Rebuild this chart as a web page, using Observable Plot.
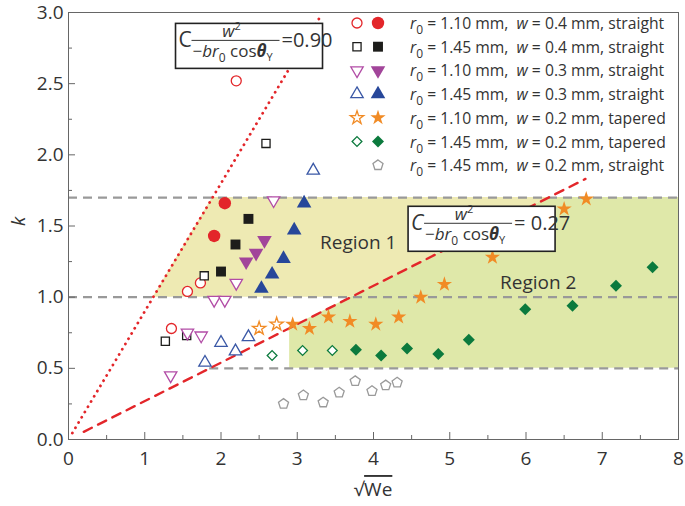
<!DOCTYPE html>
<html><head><meta charset="utf-8">
<script src="https://cdn.jsdelivr.net/npm/d3@7"></script>
<script src="https://cdn.jsdelivr.net/npm/@observablehq/plot@0.6"></script>
<style>body{margin:0;background:#fff;} #chart{width:685px;height:506px;}</style>
</head><body><div id="chart"></div>
<script>
// ---- data (sqrt(We), k) ----
const red110w04Open   = [[2.20,2.52],[1.56,1.04],[1.73,1.10],[1.35,0.78]];
const red110w04Filled = [[2.05,1.66],[1.91,1.43]];
const blk145w04Open   = [[2.59,2.08],[1.78,1.15],[1.55,0.73],[1.27,0.69]];
const blk145w04Filled = [[2.36,1.55],[2.19,1.37],[2.00,1.18]];
const mag110w03Open   = [[2.69,1.68],[2.20,1.10],[1.91,0.98],[2.05,0.98],[1.56,0.75],[1.74,0.73],[1.34,0.45]];
const mag110w03Filled = [[2.57,1.40],[2.46,1.31],[2.33,1.25]];
const blu145w03Open   = [[3.21,1.89],[2.36,0.72],[2.00,0.68],[2.19,0.62],[1.79,0.54]];
const blu145w03Filled = [[3.09,1.66],[2.96,1.47],[2.82,1.27],[2.67,1.16],[2.53,1.06]];
const org110w02Open   = [[2.50,0.78],[2.73,0.81]];
const org110w02Filled = [[2.94,0.81],[3.16,0.78],[3.41,0.86],[3.69,0.83],[4.03,0.81],[4.33,0.86],[4.62,1.00],[4.93,1.09],[5.56,1.28],[6.50,1.62],[6.79,1.69]];
const grn145w02Open   = [[2.67,0.59],[3.07,0.625],[3.46,0.625]];
const grn145w02Filled = [[3.77,0.63],[4.10,0.59],[4.44,0.64],[4.85,0.60],[5.25,0.70],[5.99,0.915],[6.61,0.94],[7.18,1.08],[7.66,1.21]];
const gry145w02Straight = [[2.82,0.25],[3.08,0.31],[3.34,0.26],[3.55,0.33],[3.76,0.41],[3.98,0.34],[4.16,0.38],[4.31,0.40]];

const legendLabels = [
  ["1.10","0.4","straight"],["1.45","0.4","straight"],["1.10","0.3","straight"],
  ["1.45","0.3","straight"],["1.10","0.2","tapered"],["1.45","0.2","tapered"],["1.45","0.2","straight"]
];
const slopeDotted = 0.90, slopeDashed = 0.27;
const kLevels = [0.5, 1.0, 1.7];
const region2StartX = 2.9;
const xTicks = [0,1,2,3,4,5,6,7,8];
const xMinor = [0.5,1.5,2.5,3.5,4.5,5.5,6.5,7.5];
const yTicks = [0,0.5,1,1.5,2,2.5,3];
const yMinor = [0.25,0.75,1.25,1.75,2.25,2.75];
const dottedRange = [0.05, 3.3];
const dashedRange = [0.2, 6.78];

// ---- custom symbols ----
const sqrt3 = Math.sqrt(3);
const triDown = {draw(ctx, size){ const y = -Math.sqrt(size/(sqrt3*3)); ctx.moveTo(0,-y*2); ctx.lineTo(-sqrt3*y, y); ctx.lineTo(sqrt3*y, y); ctx.closePath(); }};
const pentagon = {draw(ctx, size){ const R = Math.sqrt(size/2.3776); for(let i=0;i<5;i++){ const a = -Math.PI/2 + i*2*Math.PI/5; const px=R*Math.cos(a), py=R*Math.sin(a); if(i===0) ctx.moveTo(px,py); else ctx.lineTo(px,py);} ctx.closePath(); }};

const C = {red:"#e3262a", blk:"#1d1d1b", magO:"#b24ca6", magF:"#a2459a", bluO:"#3a58a6", bluF:"#27479a", org:"#f18b25", grn:"#0b7a3d", gry:"#9a9a9a"};

const series = [
  {open: red110w04Open, filled: red110w04Filled, sym: "circle", rO: 5, rF: 6.2, cO: C.red, cF: C.red},
  {open: blk145w04Open, filled: blk145w04Filled, sym: "square", rO: 4.6, rF: 5.6, cO: C.blk, cF: C.blk},
  {open: mag110w03Open, filled: mag110w03Filled, sym: triDown, rO: 4.6, rF: 5.4, cO: C.magO, cF: C.magF},
  {open: blu145w03Open, filled: blu145w03Filled, sym: "triangle", rO: 4.6, rF: 5.4, cO: C.bluO, cF: C.bluF},
  {open: org110w02Open, filled: org110w02Filled, sym: "star", rO: 4.2, rF: 4.8, cO: C.org, cF: C.org},
  {open: grn145w02Open, filled: grn145w02Filled, sym: "diamond2", rO: 4.4, rF: 5.4, cO: C.grn, cF: C.grn},
  {open: gry145w02Straight, filled: [], sym: pentagon, rO: 4.6, rF: 4.6, cO: C.gry, cF: C.gry}
];

// regions built from the two lines and the k levels
const xd17 = kLevels[2]/slopeDotted, xd10 = kLevels[1]/slopeDotted;
const xs10 = kLevels[1]/slopeDashed, xs17 = kLevels[2]/slopeDashed;
const region1 = [
  {x: xd10, y1: kLevels[1], y2: kLevels[1]},
  {x: xd17, y1: kLevels[1], y2: kLevels[2]},
  {x: xs10, y1: kLevels[1], y2: kLevels[2]},
  {x: xs17, y1: kLevels[2], y2: kLevels[2]}
];
const region2 = [
  {x: region2StartX, y1: kLevels[0], y2: slopeDashed*region2StartX},
  {x: xs17, y1: kLevels[0], y2: kLevels[2]},
  {x: 8, y1: kLevels[0], y2: kLevels[2]}
];
const rules = [
  {k: kLevels[0], x1: kLevels[0]/slopeDashed, x2: 8},
  {k: kLevels[1], x1: 0, x2: 8},
  {k: kLevels[2], x1: 0, x2: 8}
];
const dottedLine = dottedRange.map(x => ({x, y: slopeDotted*x}));
const dashedLine = dashedRange.map(x => ({x, y: slopeDashed*x}));

const dotMarks = [];
series.forEach(s => {
  dotMarks.push(Plot.dot(s.open, {x: d=>d[0], y: d=>d[1], symbol: s.sym, r: s.rO, fill: "white", stroke: s.cO, strokeWidth: 1.3}));
  if (s.filled.length) dotMarks.push(Plot.dot(s.filled, {x: d=>d[0], y: d=>d[1], symbol: s.sym, r: s.rF, fill: s.cF, stroke: "none"}));
});

const FONT = "'Open Sans', 'DejaVu Sans', sans-serif";
const plot = Plot.plot({
  width: 685, height: 506,
  marginLeft: 68, marginRight: 7, marginTop: 12, marginBottom: 67,
  x: {domain: [0, 8]},
  y: {domain: [0, 3]},
  style: {fontFamily: FONT, background: "white", color: "#333"},
  marks: [
    Plot.areaY(region2, {x: "x", y1: "y1", y2: "y2", fill: "#dfe8a9"}),
    Plot.areaY(region1, {x: "x", y1: "y1", y2: "y2", fill: "#eeeab3"}),
    Plot.ruleY(rules, {y: "k", x1: "x1", x2: "x2", stroke: "#999", strokeWidth: 2.2, strokeDasharray: "9,6"}),
    Plot.line(dottedLine, {x: "x", y: "y", stroke: C.red, strokeWidth: 2.8, strokeDasharray: "0.1,6", strokeLinecap: "round"}),
    Plot.line(dashedLine, {x: "x", y: "y", stroke: C.red, strokeWidth: 2.4, strokeDasharray: "9,7"}),
    ...dotMarks,
    Plot.frame({stroke: "#666"}),
    Plot.axisX({ticks: xTicks, tickSize: -7, fill: "none", stroke: "#666", label: null}),
    Plot.axisX({ticks: xMinor, tickSize: -4, fill: "none", stroke: "#666", label: null}),
    Plot.axisY({ticks: yTicks, tickSize: -7, fill: "none", stroke: "#666", label: null}),
    Plot.axisY({ticks: yMinor, tickSize: -4, fill: "none", stroke: "#666", label: null}),
    Plot.axisX({ticks: xTicks, tickSize: 0, tickPadding: 12, fontSize: 19, fill: "#333", label: null, tickFormat: d => d}),
    Plot.axisY({ticks: yTicks, tickSize: 0, tickPadding: 5, fontSize: 19, fill: "#333", label: null, tickFormat: d3.format(".1f")}),
    Plot.text(["k"], {frameAnchor: "left", dx: -50, rotate: -90, fontSize: 19, fontStyle: "italic", fill: "#333"}),
    Plot.text(["Region 1"], {x: [3.80], y: [1.383], fontSize: 19, fill: "#333"}),
    Plot.text(["Region 2"], {x: [6.16], y: [1.10], fontSize: 19, fill: "#333"})
  ]
});
document.getElementById("chart").appendChild(plot);

// ---- annotations via the plot's scales ----
const sx = plot.scale("x"), sy = plot.scale("y");
const svg = d3.select(plot);

// x label sqrt(We)
const xl = svg.append("text").attr("x", sx.apply(4)).attr("y", 496).attr("text-anchor", "middle")
  .attr("font-family", FONT).attr("font-size", 19).attr("fill", "#333");
xl.append("tspan").text("√");
xl.append("tspan").attr("text-decoration", "overline").style("text-decoration", "overline").text("We");

function formulaBox(x0, k0, italicC, value) {
  const bx = sx.apply(x0), by = sy.apply(k0), w = 147, h = 45;
  const g = svg.append("g").attr("font-family", FONT).attr("fill", "#333").attr("text-anchor", "start");
  g.append("rect").attr("x", bx).attr("y", by).attr("width", w).attr("height", h)
    .attr("fill", "white").attr("stroke", "#222").attr("stroke-width", 1.6);
  g.append("text").attr("x", bx + 3).attr("y", by + 24).attr("font-size", 21)
    .attr("font-style", italicC ? "italic" : "normal").text("C");
  g.append("line").attr("x1", bx + 16).attr("x2", bx + 104).attr("y1", by + 17).attr("y2", by + 17)
    .attr("stroke", "#333").attr("stroke-width", 1);
  const num = g.append("text").attr("x", bx + 56).attr("y", by + 14).attr("text-anchor", "middle").attr("font-size", 17);
  num.append("tspan").attr("font-style", "italic").text("w");
  num.append("tspan").attr("font-size", 11).attr("dy", -7).text("2");
  const den = g.append("text").attr("x", bx + 17).attr("y", by + 34).attr("font-size", 17);
  den.append("tspan").text("−");
  den.append("tspan").attr("font-style", "italic").text("br");
  den.append("tspan").attr("font-size", 12).attr("dy", 5).text("0");
  den.append("tspan").attr("dy", -5).text(" cos");
  den.append("tspan").attr("font-style", "italic").attr("font-weight", "bold").text("θ");
  den.append("tspan").attr("font-size", 11).attr("dy", 4).text("Y");
  g.append("text").attr("x", bx + 106).attr("y", by + 24).attr("font-size", 20).text(value);
}
formulaBox(1.41, 2.92, false, "=0.90");
formulaBox(4.46, 1.635, true, "= 0.27");

// legend
const openX = 357, fillX = 378, textX = 410, row0 = 23, rowH = 23.7;
const lg = svg.append("g").attr("font-family", FONT).attr("fill", "#333").attr("text-anchor", "start");
series.forEach((s, i) => {
  const cy = row0 + i * rowH;
  const symType = typeof s.sym === "string" ? {circle: d3.symbolCircle, square: d3.symbolSquare, triangle: d3.symbolTriangle, star: d3.symbolStar, diamond2: d3.symbolDiamond2}[s.sym] : s.sym;
  if (s.filled.length) {
    lg.append("path").attr("transform", `translate(${openX},${cy})`).attr("d", d3.symbol(symType, Math.PI * s.rO * s.rO)())
      .attr("fill", "white").attr("stroke", s.cO).attr("stroke-width", 1.3);
    lg.append("path").attr("transform", `translate(${fillX},${cy})`).attr("d", d3.symbol(symType, Math.PI * s.rF * s.rF)())
      .attr("fill", s.cF);
  } else {
    lg.append("path").attr("transform", `translate(${fillX},${cy})`).attr("d", d3.symbol(symType, Math.PI * s.rO * s.rO)())
      .attr("fill", "white").attr("stroke", s.cO).attr("stroke-width", 1.3);
  }
  const [r0, wv, kind] = legendLabels[i];
  const t = lg.append("text").attr("x", textX).attr("y", cy + 6).attr("font-size", 15.7);
  t.append("tspan").attr("font-style", "italic").text("r");
  t.append("tspan").attr("font-size", 12).attr("dy", 5).text("0");
  t.append("tspan").attr("dy", -5).text(` = ${r0} mm,  `);
  t.append("tspan").attr("font-style", "italic").text("w");
  t.append("tspan").text(` = ${wv} mm, ${kind}`);
});
</script></body></html>
